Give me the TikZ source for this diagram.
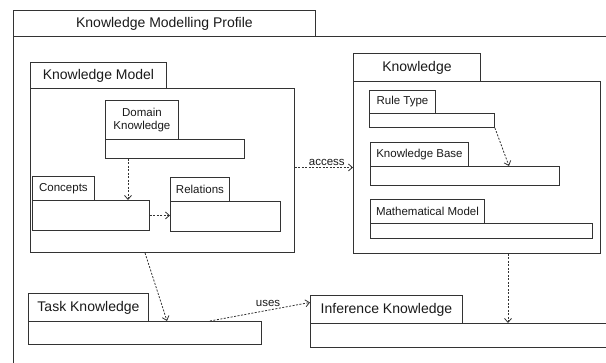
\documentclass[tikz,border=0pt]{standalone}
\usepackage{fontspec}
\setmainfont{Liberation Sans}
\usetikzlibrary{arrows.meta}
\definecolor{linec}{HTML}{333333}
\definecolor{textc}{HTML}{1A1A1A}
\begin{document}
\begin{tikzpicture}[x=1pt,y=-1pt,
  box/.style={draw=linec, line width=0.9pt, inner sep=0pt, anchor=north west, fill=white, text=textc},
  big/.style={font=\fontsize{14}{16}\selectfont},
  small/.style={font=\fontsize{11.5}{13.5}\selectfont},
  lbl/.style={font=\fontsize{11.5}{13.5}\selectfont, text=textc, inner sep=1pt},
  dep/.style={draw=linec, line width=0.8pt, dash pattern=on 2pt off 1.5pt, -{Straight Barb[length=4pt,width=7pt]}}]
\useasboundingbox[fill=white] (0,0) rectangle (606,363);
% outer package
\node[box, minimum width=302pt, minimum height=26pt, big] (opT) at (13,10) {Knowledge Modelling Profile};
\node[box, minimum width=620pt, minimum height=340pt] (opB) at (13,36) {};
% Knowledge Model
\node[box, minimum width=136pt, minimum height=26pt, big] (kmT) at (30,62) {Knowledge Model};
\node[box, minimum width=264pt, minimum height=164pt] (kmB) at (30,88) {};
\node[box, minimum width=73pt, minimum height=39pt, small, align=center] (dkT) at (105,100) {Domain\\Knowledge};
\node[box, minimum width=139pt, minimum height=19pt] (dkB) at (105,139) {};
\node[box, minimum width=62pt, minimum height=24pt, small] (ccT) at (32,176) {Concepts};
\node[box, minimum width=117pt, minimum height=30pt] (ccB) at (32,200) {};
\node[box, minimum width=59pt, minimum height=24pt, small] (rlT) at (170,177) {Relations};
\node[box, minimum width=110pt, minimum height=30pt] (rlB) at (170,201) {};
% Knowledge
\node[box, minimum width=127pt, minimum height=28pt, big] (kT) at (353,53) {Knowledge};
\node[box, minimum width=247pt, minimum height=172pt] (kB) at (353,81) {};
\node[box, minimum width=66pt, minimum height=23pt, small] (rtT) at (369,90) {Rule Type};
\node[box, minimum width=125pt, minimum height=14pt] (rtB) at (369,113) {};
\node[box, minimum width=98pt, minimum height=24pt, small] (kbT) at (370,142) {Knowledge Base};
\node[box, minimum width=189pt, minimum height=19pt] (kbB) at (370,166) {};
\node[box, minimum width=114pt, minimum height=24pt, small] (mmT) at (370,199) {Mathematical Model};
\node[box, minimum width=222pt, minimum height=15pt] (mmB) at (370,223) {};
% Task Knowledge
\node[box, minimum width=120pt, minimum height=28pt, big] (tkT) at (28,293) {Task Knowledge};
\node[box, minimum width=233pt, minimum height=23pt] (tkB) at (28,321) {};
% Inference Knowledge
\node[box, minimum width=152pt, minimum height=28pt, big] (ikT) at (310,295) {Inference Knowledge};
\node[box, minimum width=320pt, minimum height=24pt] (ikB) at (310,323) {};
% connectors
\draw[dep] ([xshift=23pt]dkB.south west) -- ([xshift=23pt]dkB.south west |- ccB.north);
\draw[dep] (ccB.east) -- (rlB.west |- ccB.east);
\draw[dep] (kB.west -| kmB.east) -- node[lbl, above, pos=0.55] {access} (kB.west);
\draw[dep] (rtB.south east) -- ([xshift=139pt]kbB.north west);
\draw[dep] ([xshift=115pt]kmB.south west) -- ([xshift=139pt]tkB.north west);
\draw[dep] ([xshift=182pt]tkB.north west) -- node[lbl, above, pos=0.58, yshift=2pt] {uses} ([yshift=7pt]ikT.west);
\draw[dep] ([xshift=155pt]kB.south west) -- ([xshift=155pt]kB.south west |- ikB.north);
\end{tikzpicture}
\end{document}
